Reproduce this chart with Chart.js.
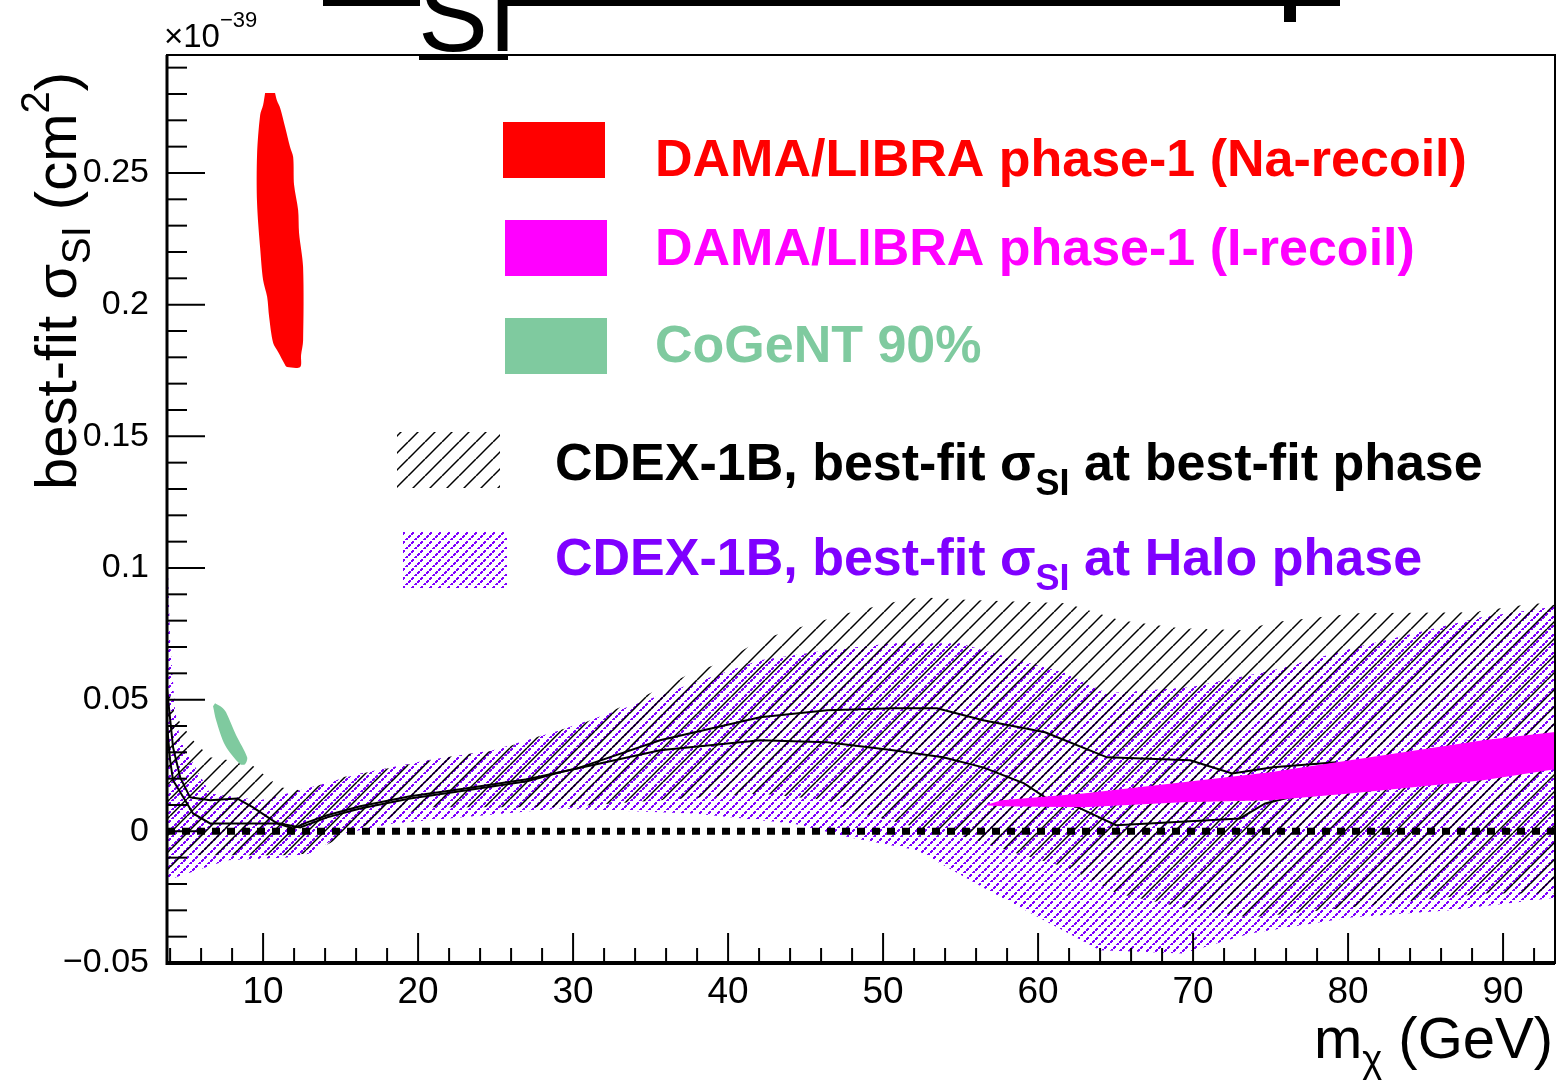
<!DOCTYPE html>
<html>
<head>
<meta charset="utf-8">
<script src="https://cdn.jsdelivr.net/npm/chart.js@4.4.1/dist/chart.umd.min.js"></script>
<style>
  html, body { margin: 0; padding: 0; background: #fff; }
  #wrap { width: 1557px; height: 1081px; position: relative; }
</style>
</head>
<body>
<div id="wrap"><canvas id="c"></canvas></div>
<script>
// m_chi in GeV, sigma_SI in units of 1e-39 cm^2

// DAMA/LIBRA phase-1, Na recoil region (closed contour)
const naRecoilX = [10.13, 10.0, 9.81, 9.61, 9.61, 9.81, 10.0, 10.26, 10.39, 10.65, 10.97, 11.42, 11.55, 12.39, 12.45, 12.58, 12.58, 12.32, 12.26, 12.0, 11.94, 11.74, 11.42, 11.1, 10.9, 10.77];
const naRecoilY = [0.2804, 0.2758, 0.2720, 0.2568, 0.2386, 0.2215, 0.2094, 0.2030, 0.1953, 0.1854, 0.1820, 0.1771, 0.1763, 0.1763, 0.1809, 0.1862, 0.2143, 0.2272, 0.2359, 0.2454, 0.2561, 0.2599, 0.2675, 0.2747, 0.2774, 0.2804];

// DAMA/LIBRA phase-1, I recoil region
const iRecoilX = [56.58, 57.65, 62.9, 69.35, 74.97, 80.13, 88.71, 93.5, 93.5, 88.71, 80.13, 74.97, 69.35, 62.9, 57.65];
const iRecoilY = [0.0099, 0.0118, 0.0144, 0.0186, 0.0224, 0.0270, 0.0346, 0.0378, 0.0237, 0.0194, 0.0144, 0.0118, 0.0110, 0.0091, 0.0095];

// CoGeNT 90% region
const cogentX = [6.90, 7.35, 7.61, 8.26, 8.97, 8.84, 8.52, 7.55, 6.97, 6.77];
const cogentY = [0.0486, 0.0470, 0.0452, 0.0365, 0.0281, 0.0255, 0.0255, 0.0327, 0.0422, 0.0475];

// CDEX-1B band, best-fit phase
const bestUpX = [3.81, 4.32, 5.48, 6.58, 9.16, 10.26, 11.10, 12.39, 13.23, 15.10, 18.0, 22.52, 25.1, 28.0, 30.65, 33.03, 34.97, 37.74, 39.48, 42.06, 44.0, 47.68, 50.65, 52.39, 55.61, 61.81, 65.29, 69.16, 73.29, 75.16, 80.52, 88.06, 92.06, 93.5];
const bestUpY = [0.0562, 0.0441, 0.0346, 0.0281, 0.0258, 0.0205, 0.0167, 0.0156, 0.0167, 0.0205, 0.0239, 0.0289, 0.0308, 0.0365, 0.0410, 0.0471, 0.0524, 0.0604, 0.0638, 0.0726, 0.0764, 0.0828, 0.0870, 0.0889, 0.0878, 0.0866, 0.0802, 0.0771, 0.0764, 0.0794, 0.0828, 0.0832, 0.0866, 0.0859];
const bestLoX = [3.81, 5.48, 11.29, 13.03, 16.26, 20.58, 29.16, 35.61, 42.06, 46.39, 47.87, 52.19, 55.42, 58.65, 61.87, 65.10, 69.35, 73.68, 80.13, 88.71, 93.5];
const bestLoY = [-0.0167, -0.0091, -0.0091, -0.0084, 0.0015, 0.0091, 0.0091, 0.0118, 0.0144, 0.0118, 0.0080, 0.0015, -0.0023, -0.0084, -0.0137, -0.0236, -0.0289, -0.0327, -0.0289, -0.0236, -0.0236];

// CDEX-1B band, Halo phase
const haloUpX = [3.81, 4.0, 4.32, 4.65, 6.58, 9.81, 12.39, 16.26, 20.58, 24.84, 29.16, 33.48, 37.74, 42.06, 46.39, 50.65, 54.97, 56.45, 61.81, 64.45, 69.81, 75.16, 80.52, 88.58, 93.5];
const haloUpY = [0.1106, 0.0726, 0.0460, 0.0346, 0.0144, 0.0118, 0.0156, 0.0220, 0.0270, 0.0308, 0.0384, 0.0471, 0.0562, 0.0650, 0.0688, 0.0714, 0.0714, 0.0688, 0.0600, 0.0524, 0.0547, 0.0612, 0.0699, 0.0813, 0.0855];
const haloLoX = [3.81, 7.68, 11.55, 13.03, 15.16, 18.39, 29.16, 37.74, 44.19, 47.87, 52.19, 56.45, 60.77, 64.0, 69.35, 73.68, 80.13, 86.58, 93.5];
const haloLoY = [-0.0186, -0.0110, -0.0099, -0.0084, -0.0008, 0.0030, 0.0087, 0.0068, 0.0030, -0.0023, -0.0072, -0.0213, -0.0350, -0.0452, -0.0464, -0.0388, -0.0327, -0.0300, -0.0251];

// best-fit contour lines
const contourAX = [3.81, 4.19, 4.65, 5.29, 6.58, 8.32, 9.35, 10.90, 11.94, 12.84, 14.13, 16.26, 19.48, 22.71, 27.03, 30.26, 35.61, 42.06, 46.39, 50.65, 53.48, 56.45, 60.45, 64.45, 69.81, 72.52, 75.16, 79.23];
const contourAY = [0.0536, 0.0319, 0.0205, 0.0129, 0.0118, 0.0125, 0.0091, 0.0030, 0.0011, 0.0034, 0.0061, 0.0095, 0.0133, 0.0160, 0.0198, 0.0239, 0.0346, 0.0433, 0.0460, 0.0467, 0.0467, 0.0422, 0.0376, 0.0281, 0.0270, 0.0220, 0.0243, 0.0262];
const contourBX = [3.81, 4.0, 4.19, 5.48, 6.58, 11.10, 12.39, 14.13, 16.26, 19.48, 22.71, 27.03, 29.16, 35.61, 42.06, 46.39, 50.65, 53.87, 56.45, 59.1, 60.45, 62.58, 65.03, 67.16, 73.03, 74.65, 76.26];
const contourBY = [0.0400, 0.0270, 0.0194, 0.0068, 0.0030, 0.0030, 0.0015, 0.0053, 0.0087, 0.0125, 0.0152, 0.0190, 0.0224, 0.0308, 0.0346, 0.0338, 0.0308, 0.0281, 0.0243, 0.0182, 0.0129, 0.0091, 0.0023, 0.0030, 0.0049, 0.0106, 0.0129];

const xRange = [3.8, 93.35];
const yRange = [-0.05, 0.2948];

const RED = '#ff0000', MAGENTA = '#ff00ff', GREEN = '#7fca9f', PURPLE = '#7f00ff';
const FONT = '"Liberation Sans", Arial, Helvetica, sans-serif';

function zip(xs, ys) {
  return xs.map((x, i) => ({ x: x, y: ys[i] }));
}

// upper edge left->right, lower edge right->left
function band(upX, upY, loX, loY) {
  return zip(upX, upY).concat(zip(loX, loY).reverse());
}

const canvas = document.getElementById('c');
const ctx = canvas.getContext('2d');

function hatch(size, color, dotted) {
  const tile = document.createElement('canvas');
  tile.width = tile.height = size;
  const g = tile.getContext('2d');
  g.fillStyle = color;
  g.strokeStyle = color;
  if (dotted) {
    for (let i = 0; i < size; i++) {
      if (i % 3 !== 2) g.fillRect(i, size - 1 - i, 2, 2);
    }
  } else {
    g.lineWidth = 1.5;
    for (const o of [-size, 0, size]) {
      g.beginPath();
      g.moveTo(o, size);
      g.lineTo(o + size, 0);
      g.stroke();
    }
  }
  return ctx.createPattern(tile, 'repeat');
}

const blackHatch = hatch(17, '#000', false);
const purpleHatch = hatch(9, PURPLE, true);

function shape(data, color, smooth) {
  return { data: data, fill: 'shape', backgroundColor: color, borderWidth: 0, borderColor: 'rgba(0,0,0,0)', pointRadius: 0, tension: smooth || 0 };
}

function curve(data) {
  return { data: data, fill: false, borderColor: '#000', borderWidth: 2, pointRadius: 0 };
}

function line(c, x1, y1, x2, y2) {
  c.beginPath();
  c.moveTo(x1, y1);
  c.lineTo(x2, y2);
  c.stroke();
}

// draws a run of text pieces: [text, fontSize, baselineShift]
function rich(c, x, y, parts, weight) {
  for (const [t, size, dy] of parts) {
    c.font = weight + ' ' + size + 'px ' + FONT;
    c.fillText(t, x, y + dy);
    x += c.measureText(t).width;
  }
}

const rootFrame = {
  id: 'rootFrame',
  afterDraw(chart) {
    const c = chart.ctx;
    const a = chart.chartArea;
    const xs = chart.scales.x, ys = chart.scales.y;
    c.save();

    // frame
    c.strokeStyle = '#000';
    c.lineWidth = 2;
    c.strokeRect(a.left, a.top, a.right - a.left, a.bottom - a.top);
    c.lineWidth = 3;
    line(c, a.left, a.top, a.left, a.bottom + 2);
    c.lineWidth = 4;
    line(c, a.left, a.bottom, a.right, a.bottom);

    // inward ticks
    c.lineWidth = 2;
    for (let v = 4; v <= 93; v += 2) {
      const px = xs.getPixelForValue(v);
      line(c, px, a.bottom, px, a.bottom - (v % 10 === 0 ? 30 : 15));
    }
    for (let i = -5; i <= 29; i++) {
      const py = ys.getPixelForValue(i / 100);
      line(c, a.left, py, a.left + (i % 5 === 0 ? 38 : 20), py);
    }

    c.fillStyle = '#000';
    c.textBaseline = 'alphabetic';
    c.textAlign = 'left';

    // exponent
    rich(c, 164, 47, [['\u00d710', 33, 0], ['\u221239', 22, -20]], 'normal');

    // y title
    c.save();
    c.translate(76, 490);
    c.rotate(-Math.PI / 2);
    rich(c, 0, 0, [['best-fit \u03c3', 58, 0], ['SI', 40, 14], [' (cm', 58, 0], ['2', 40, -27], [')', 58, 0]], 'normal');
    c.restore();

    // x title
    c.font = '58px ' + FONT;
    const wm = c.measureText('m').width;
    const wg = c.measureText(' (GeV)').width;
    c.font = '38px ' + FONT;
    const wc = c.measureText('\u03c7').width;
    rich(c, 1553 - wm - wc - wg, 1058, [['m', 58, 0], ['\u03c7', 38, 14], [' (GeV)', 58, 0]], 'normal');

    // title cut by the canvas edge
    c.fillRect(323, 0, 97, 6);
    c.fillRect(507, 0, 833, 6);
    c.fillRect(1284, 0, 12, 22);
    c.fillRect(419, 56, 89, 4);
    c.font = '105px ' + FONT;
    c.fillText('SI', 418, 51);

    // legend
    c.fillStyle = RED; c.fillRect(503, 122, 102, 56);
    c.fillStyle = MAGENTA; c.fillRect(505, 220, 102, 56);
    c.fillStyle = GREEN; c.fillRect(505, 318, 102, 56);
    c.fillStyle = blackHatch; c.fillRect(397, 432, 103, 56);
    c.fillStyle = purpleHatch; c.fillRect(403, 532, 104, 56);

    c.fillStyle = RED;
    rich(c, 655, 176, [['DAMA/LIBRA phase-1 (Na-recoil)', 52, 0]], 'bold');
    c.fillStyle = MAGENTA;
    rich(c, 655, 265, [['DAMA/LIBRA phase-1 (I-recoil)', 52, 0]], 'bold');
    c.fillStyle = GREEN;
    rich(c, 655, 362, [['CoGeNT 90%', 52, 0]], 'bold');
    c.fillStyle = '#000';
    rich(c, 555, 480, [['CDEX-1B, best-fit \u03c3', 52, 0], ['SI', 36, 15], [' at best-fit phase', 52, 0]], 'bold');
    c.fillStyle = PURPLE;
    rich(c, 555, 575, [['CDEX-1B, best-fit \u03c3', 52, 0], ['SI', 36, 15], [' at Halo phase', 52, 0]], 'bold');

    c.restore();
  }
};

// drawn top-first: lower index ends up on top
new Chart(ctx, {
  type: 'line',
  data: {
    datasets: [
      shape(zip(iRecoilX, iRecoilY), MAGENTA),
      shape(zip(naRecoilX, naRecoilY), RED, 0.3),
      shape(zip(cogentX, cogentY), GREEN, 0.3),
      curve(zip(contourAX, contourAY)),
      curve(zip(contourBX, contourBY)),
      {
        data: [{ x: xRange[0], y: 0 }, { x: xRange[1], y: 0 }],
        fill: false, borderColor: '#000', borderWidth: 7, borderDash: [8, 7], borderCapStyle: 'butt', pointRadius: 0
      },
      shape(band(bestUpX, bestUpY, bestLoX, bestLoY), blackHatch),
      shape(band(haloUpX, haloUpY, haloLoX, haloLoY), purpleHatch)
    ]
  },
  options: {
    responsive: true,
    maintainAspectRatio: false,
    animation: false,
    layout: { padding: { top: 55, right: 2, left: 0, bottom: 0 } },
    elements: { line: { tension: 0 }, point: { radius: 0 } },
    plugins: { legend: { display: false }, tooltip: { enabled: false } },
    scales: {
      x: {
        type: 'linear',
        min: xRange[0],
        max: xRange[1],
        grid: { display: false },
        border: { display: false },
        ticks: { stepSize: 10, includeBounds: false, maxRotation: 0, padding: 0, color: '#000', font: { family: FONT, size: 37 } },
        afterFit: s => { s.height = 118; }
      },
      y: {
        type: 'linear',
        min: yRange[0],
        max: yRange[1],
        grid: { display: false },
        border: { display: false },
        ticks: {
          stepSize: 0.05,
          includeBounds: false,
          padding: 10,
          color: '#000',
          font: { family: FONT, size: 34 },
          callback: v => v === 0 ? '0' : (v < 0 ? '\u2212' + String(-v) : String(v))
        },
        afterFit: s => { s.width = 167; }
      }
    }
  },
  plugins: [rootFrame]
});
</script>
</body>
</html>
